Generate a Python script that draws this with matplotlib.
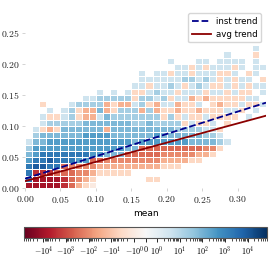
import numpy as np
import matplotlib
matplotlib.use("Agg")
import matplotlib.pyplot as plt
from matplotlib.colors import SymLogNorm
from matplotlib.ticker import FuncFormatter, FixedLocator, SymmetricalLogLocator

plt.rcParams['mathtext.fontset'] = 'cm'
plt.rcParams['font.family'] = 'DejaVu Sans'

# count difference per (mean, y) bin, read off the picture as rough levels
# rows from top (0.22-0.23) down to bottom (0.00-0.01), 34 columns of 0.01
grid_rows = [
    "................................2.",
    "............................2...b.",
    "....................2...22.2222.2.",
    ".....................22b2b222b2.22",
    "................2.22b22b222bb2.b2.",
    "................22222233232b2b22.b",
    "...............22b2232b232bb2b2b22",
    "..........2.2.2bb2322b222b22b2bb.2",
    "........2233333b3323b22cbcbbbbb22.",
    "..b...23333cbcc23bc22cbb2.bcbb2bb2",
    "...2.23bcc4cb333c3cbbcbbcbbb22b.2.",
    "..2bb23bcc243333333b3b2bb2bbbb.2..",
    "..23333344444443343333b2bb2.b.....",
    ".2bcb444444c444444444333322b......",
    ".344444455554444445444444332......",
    "24455555555555545555555444432.....",
    "3555555555555544eeeeeeeeeddb......",
    "45666666655444eeeeedddddccb.......",
    "566766655eeddddddddccccbb.........",
    "67766eddddcccccccccbbb............",
    "6fffeeeddcbbbbb...................",
    "6ggggfedcb.......bb...............",
    "gggggfecba........................",
]
level_values = {
    '1': 1, '2': 4, '3': 20, '4': 80, '5': 300, '6': 2000, '7': 9000,
    'a': -1, 'b': -4, 'c': -25, 'd': -120, 'e': -350, 'f': -2500, 'g': -9000,
}

# trend lines: intercept, slope
inst_trend = (0.015, 0.36)
avg_trend = (0.011, 0.31)

cbar_ticks = [-1e4, -1e3, -1e2, -1e1, -1, 0, 1, 1e1, 1e2, 1e3, 1e4]

bin_w = 0.01
n_rows = len(grid_rows)
n_cols = len(grid_rows[0])
Z = np.full((n_rows, n_cols), np.nan)
for r, row in enumerate(grid_rows[::-1]):
    assert len(row) == n_cols
    for c, ch in enumerate(row):
        if ch in level_values:
            Z[r, c] = level_values[ch]
Z = np.ma.masked_invalid(Z)

xedges = np.arange(n_cols + 1) * bin_w
yedges = np.arange(n_rows + 1) * bin_w

fig = plt.figure(figsize=(2.74, 2.74), dpi=100)
ax = fig.add_axes([0.0912, 0.314, 0.8796, 0.657])
cax = fig.add_axes([0.0887, 0.1314, 0.8847, 0.0401])

norm = SymLogNorm(linthresh=1, linscale=0.45, vmin=-7e4, vmax=7e4, base=10)
mesh = ax.pcolormesh(xedges, yedges, Z, cmap='RdBu', norm=norm,
                     edgecolors='white', linewidth=0.5)

xs = np.array([0, 0.34])
ax.plot(xs, inst_trend[0] + inst_trend[1] * xs, color='#00008b', ls='--',
        lw=1.3, label='inst trend')
ax.plot(xs, avg_trend[0] + avg_trend[1] * xs, color='#8b0000', lw=1.3,
        label='avg trend')

ax.set_xlim(0, 0.34)
ax.set_ylim(0, 0.29)
ax.set_xticks([0, 0.05, 0.10, 0.15, 0.20, 0.25, 0.30])
ax.set_yticks([0, 0.05, 0.10, 0.15, 0.20, 0.25])
fmt = FuncFormatter(lambda v, _: f'${v:.2f}$')
ax.xaxis.set_major_formatter(fmt)
ax.yaxis.set_major_formatter(fmt)
ax.tick_params(labelsize=7, color='#cccccc', labelcolor='#222222',
               length=2.5, width=0.6, pad=1.5)
for s in ax.spines.values():
    s.set_visible(False)
ax.set_xlabel('mean', fontsize=6.5, labelpad=3)

leg = ax.legend(loc='upper right', fontsize=6.2, frameon=True, handlelength=2.2,
                handletextpad=0.6, borderpad=0.4, labelspacing=0.5,
                borderaxespad=0.6)
leg.get_frame().set_edgecolor('#cccccc')

cb = fig.colorbar(mesh, cax=cax, orientation='horizontal')
cb.outline.set_edgecolor('#555555')
cb.outline.set_linewidth(0.8)
cax.xaxis.set_major_locator(FixedLocator(cbar_ticks))


def cb_label(v, _):
    if v == 0:
        return '$0$'
    sign = '-' if v < 0 else ''
    return '$%s10^{%d}$' % (sign, int(round(np.log10(abs(v)))))


cax.xaxis.set_major_formatter(FuncFormatter(cb_label))
cax.xaxis.set_minor_locator(SymmetricalLogLocator(linthresh=1, base=10,
                                                  subs=np.arange(2, 10)))
cax.tick_params(which='major', labelsize=5.8, length=3, width=0.6, pad=1.5)
cax.tick_params(which='minor', length=1.8, width=0.5)

fig.savefig('out.png', dpi=100)
